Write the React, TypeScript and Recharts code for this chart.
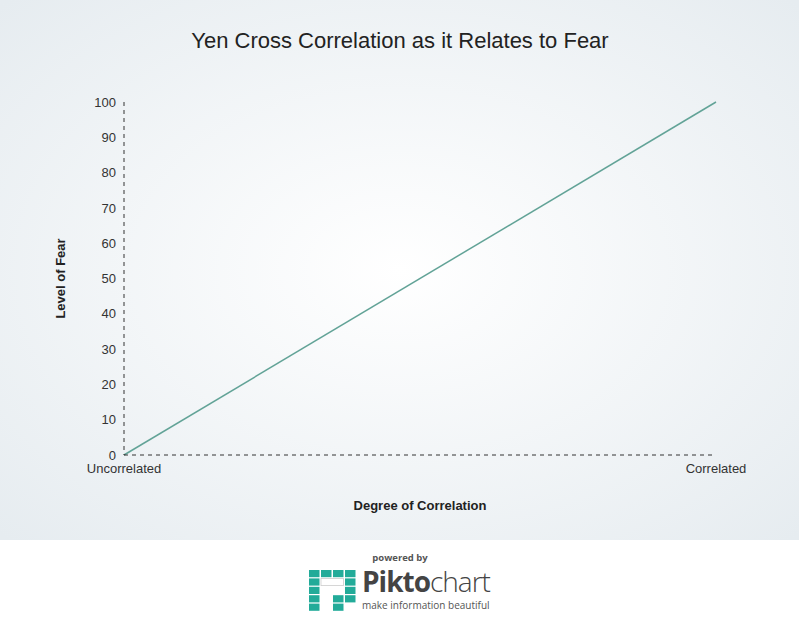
import React from 'react';
import { LineChart, Line, XAxis, YAxis } from 'recharts';

const categories = ['Uncorrelated', 'Correlated'];
const fearValues = [0, 100];
const yTicks = [0, 10, 20, 30, 40, 50, 60, 70, 80, 90, 100];

const data = categories.map((c, i) => ({ name: c, fear: fearValues[i] }));

const FONT = '"Liberation Sans", Arial, sans-serif';

const YLabel = (props: any) => {
  const vb = props.viewBox || {};
  const cx = vb.x - 4;
  const cy = vb.y + vb.height / 2;
  return (
    <text x={cx} y={cy} transform={`rotate(-90 ${cx} ${cy})`} textAnchor="middle" dominantBaseline="central"
      fontFamily={FONT} fontSize={13} fontWeight="bold" fill="#222">Level of Fear</text>
  );
};

const XLabel = (props: any) => {
  const vb = props.viewBox || {};
  return (
    <text x={vb.x + vb.width / 2} y={vb.y + 55} textAnchor="middle"
      fontFamily={FONT} fontSize={13} fontWeight="bold" fill="#222">Degree of Correlation</text>
  );
};

const Logo = () => {
  const teal = '#22ab99';
  const cells: [number, number][] = [
    [0, 0], [1, 0], [2, 0], [3, 0],
    [0, 1], [3, 1],
    [0, 2], [3, 2],
    [0, 3], [2, 3], [3, 3],
    [0, 4], [2, 4],
  ];
  return (
    <svg width={799} height={82} style={{ display: 'block' }}>
      <text x={400} y={21} textAnchor="middle" fontFamily='"Open Sans", sans-serif' fontSize={9.5} fontWeight="bold" fill="#555">powered by</text>
      <g transform="translate(309,30)">
        {cells.map(([c, r], i) => (
          <rect key={i} x={c * 12} y={r * 8.4} width={10.5} height={7.2} fill={teal} />
        ))}
        <rect x={12} y={8.4} width={22.5} height={7.2} fill="none" stroke="#ccc" strokeWidth={0.8} />
      </g>
      <text x={362} y={52} fontFamily='"Open Sans", sans-serif' fontSize={28} fill="#444" letterSpacing={-1}>
        <tspan fontWeight="bold">Pikto</tspan><tspan fontWeight={300}>chart</tspan>
      </text>
      <text x={362} y={69} fontFamily='"Open Sans", sans-serif' fontSize={10} fill="#555">make information beautiful</text>
    </svg>
  );
};

export default function App() {
  return (
    <div style={{ position: 'absolute', left: 0, top: 0, width: 799, height: 622, background: '#fff' }}>
      <div style={{ position: 'relative', width: 799, height: 540 }}>
        <svg width={799} height={540} style={{ position: 'absolute', left: 0, top: 0 }}>
          <defs>
            <radialGradient id="bg" cx="50%" cy="50%" r="70%">
              <stop offset="0%" stopColor="#ffffff" />
              <stop offset="100%" stopColor="#e6ecf0" />
            </radialGradient>
          </defs>
          <rect x={0} y={0} width={799} height={540} fill="url(#bg)" />
          <text x={400} y={48} textAnchor="middle" fontFamily={FONT} fontSize={22} fill="#222">
            Yen Cross Correlation as it Relates to Fear
          </text>
        </svg>
        <div style={{ position: 'absolute', left: 0, top: 0 }}>
          <LineChart width={799} height={540} data={data} margin={{ top: 102, right: 83, bottom: 55, left: 64 }}>
            <XAxis dataKey="name" scale="point" type="category" height={30}
              axisLine={{ stroke: '#333', strokeDasharray: '4 4' }} tickLine={false}
              tick={{ fontFamily: FONT, fontSize: 13, fill: '#333' }} tickMargin={3}
              interval={0} label={<XLabel />} />
            <YAxis type="number" domain={[0, 100]} ticks={yTicks} width={60}
              axisLine={{ stroke: '#333', strokeDasharray: '4 4' }} tickLine={false}
              tick={{ fontFamily: FONT, fontSize: 13, fill: '#333' }} tickMargin={2}
              interval={0} label={<YLabel />} />
            <Line type="linear" dataKey="fear" stroke="#62a397" strokeWidth={1.5} dot={false} isAnimationActive={false} />
          </LineChart>
        </div>
      </div>
      <Logo />
    </div>
  );
}
